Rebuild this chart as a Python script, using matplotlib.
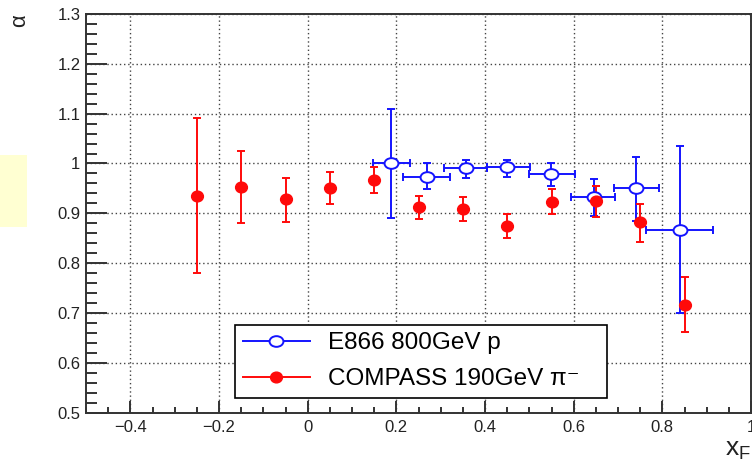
import numpy as np
import matplotlib
matplotlib.use("Agg")
import matplotlib.pyplot as plt
from matplotlib.path import Path
from matplotlib.transforms import Affine2D
from matplotlib.patches import Rectangle
from matplotlib.lines import Line2D

plt.rcParams['font.family'] = ['Liberation Sans', 'DejaVu Sans']

# E866 800 GeV p
e866_x = [0.189, 0.269, 0.356, 0.450, 0.549, 0.646, 0.741, 0.839]
e866_y = [1.001, 0.973, 0.990, 0.993, 0.979, 0.933, 0.950, 0.867]
e866_yup = [1.110, 1.000, 1.008, 1.008, 1.000, 0.968, 1.013, 1.035]
e866_ylo = [0.891, 0.949, 0.970, 0.973, 0.955, 0.895, 0.885, 0.701]
e866_xlo = [0.148, 0.215, 0.307, 0.405, 0.499, 0.594, 0.692, 0.764]
e866_xhi = [0.231, 0.322, 0.405, 0.502, 0.602, 0.694, 0.793, 0.915]

# COMPASS 190 GeV pi-
comp_x = [-0.25, -0.15, -0.05, 0.05, 0.15, 0.25, 0.35, 0.45, 0.55, 0.65, 0.75, 0.85]
comp_y = [0.934, 0.952, 0.928, 0.950, 0.966, 0.912, 0.908, 0.875, 0.922, 0.924, 0.883, 0.716]
comp_yup = [1.091, 1.025, 0.970, 0.982, 0.993, 0.934, 0.932, 0.898, 0.949, 0.954, 0.919, 0.772]
comp_ylo = [0.781, 0.880, 0.882, 0.918, 0.940, 0.888, 0.884, 0.850, 0.898, 0.893, 0.842, 0.661]

xticks = [-0.4, -0.2, 0, 0.2, 0.4, 0.6, 0.8, 1.0]
xticklabels = ['\u22120.4', '\u22120.2', '0', '0.2', '0.4', '0.6', '0.8', '1']
yticks = [0.5, 0.6, 0.7, 0.8, 0.9, 1.0, 1.1, 1.2, 1.3]
yticklabels = ['0.5', '0.6', '0.7', '0.8', '0.9', '1', '1.1', '1.2', '1.3']

blue = '#1414ff'
red = '#ff0a0a'

# slightly wide ellipse markers (image is stretched horizontally)
circ = Path.unit_circle()
blue_mk = circ.transformed(Affine2D().scale(1.3, 1.0))
red_mk = circ.transformed(Affine2D().scale(1.1, 1.0))

fig = plt.figure(figsize=(7.52, 4.61), dpi=100)
ax = fig.add_axes([0.1144, 0.1048, 0.8843, 0.8649])

ex = np.array(e866_x)
ey = np.array(e866_y)
e_yerr = [ey - np.array(e866_ylo), np.array(e866_yup) - ey]
e_xerr = [ex - np.array(e866_xlo), np.array(e866_xhi) - ex]
ax.errorbar(ex, ey, yerr=e_yerr, xerr=e_xerr, fmt='none', ecolor=blue,
            elinewidth=1.4, capsize=3, capthick=1.4, zorder=3)
ax.plot(ex, ey, linestyle='none', marker=blue_mk, markersize=10,
        markerfacecolor='white', markeredgecolor=blue, markeredgewidth=1.4, zorder=4)

cx = np.array(comp_x)
cy = np.array(comp_y)
c_yerr = [cy - np.array(comp_ylo), np.array(comp_yup) - cy]
ax.errorbar(cx, cy, yerr=c_yerr, fmt='none', ecolor=red,
            elinewidth=1.4, capsize=2.7, capthick=1.4, zorder=3)
ax.plot(cx, cy, linestyle='none', marker=red_mk, markersize=8.5,
        markerfacecolor=red, markeredgecolor=red, zorder=4)

ax.set_xlim(-0.5, 1.0)
ax.set_ylim(0.5, 1.3)
ax.set_xticks(xticks)
ax.set_xticklabels(xticklabels)
ax.set_yticks(yticks)
ax.set_yticklabels(yticklabels)
ax.set_xticks(np.arange(-0.5, 1.001, 0.05), minor=True)
ax.set_yticks(np.arange(0.5, 1.301, 0.02), minor=True)

ax.grid(True, which='major', linestyle=(0, (1, 2)), color='#444444', linewidth=1.0)
ax.tick_params(axis='both', which='both', direction='in', width=1.4,
               colors='#333333', labelcolor='#222222', labelsize=12)
ax.tick_params(axis='y', which='major', length=15, pad=4)
ax.tick_params(axis='y', which='minor', length=8)
ax.tick_params(axis='x', which='major', length=9, pad=5)
ax.tick_params(axis='x', which='minor', length=4.5)
for s in ax.spines.values():
    s.set_linewidth(1.4)
    s.set_color('#333333')

# axis titles
fig.text(0.0267, 0.955, '\u03b1', rotation=90, fontsize=16, ha='center', va='center',
         color='#222222')
fig.text(0.999, 0.012, 'x$_\\mathregular{F}$', fontsize=19, ha='right', va='baseline',
         color='#222222')

# stray yellow stats box at left edge
fig.patches.append(Rectangle((0, 1 - 226.7 / 461), 27.3 / 752, 71.7 / 461,
                             transform=fig.transFigure, facecolor='#ffffd2',
                             edgecolor='none', zorder=0))

handles = [
    Line2D([], [], color=blue, linewidth=1.4, marker=blue_mk, markersize=10,
           markerfacecolor='white', markeredgecolor=blue, markeredgewidth=1.4),
    Line2D([], [], color=red, linewidth=1.4, marker=red_mk, markersize=8.5,
           markerfacecolor=red, markeredgecolor=red),
]
labels = ['E866 800GeV p', 'COMPASS 190GeV \u03c0\u207b']
leg = ax.legend(handles, labels, loc='lower left',
                bbox_to_anchor=(0.224, 0.0376, 0.559, 0.188), mode='expand',
                fontsize=17.5, frameon=True, fancybox=False, framealpha=1,
                edgecolor='black', borderpad=0.31, labelspacing=0.58,
                handlelength=2.76, handletextpad=0.76, borderaxespad=0,
                numpoints=1)
leg.get_frame().set_linewidth(1.2)
leg.set_zorder(5)

fig.savefig('out.png', dpi=100)
